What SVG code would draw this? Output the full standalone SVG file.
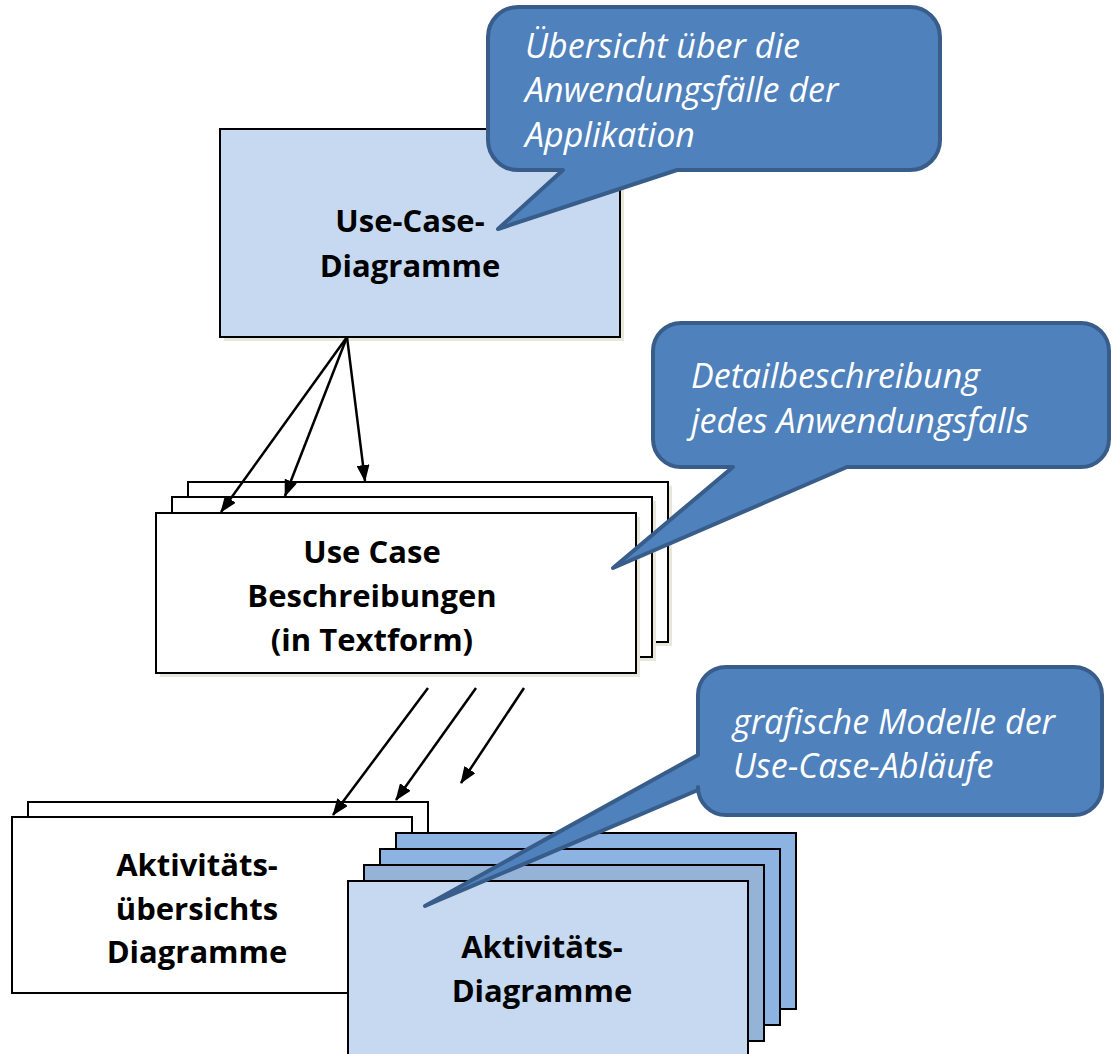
<svg xmlns="http://www.w3.org/2000/svg" width="1112" height="1054" viewBox="0 0 1112 1054">
  <defs>
    <marker id="arrow" viewBox="0 0 17 13" refX="16" refY="6.5" markerWidth="17" markerHeight="13" markerUnits="userSpaceOnUse" orient="auto">
      <path d="M0,0 L17,6.5 L0,13 Z" fill="#000"/>
    </marker>
    <style>
      .box { stroke: #000; stroke-width: 2; }
      .white { fill: #fff; }
      .light { fill: #c6d9f0; }
      .mid { fill: #95b3d7; }
      .dark { fill: #8db3e2; }
      .shadow { fill: #e9e6da; }
      .label { font-family: "Open Sans", "Liberation Sans", sans-serif; font-weight: bold; font-size: 31px; fill: #000; text-anchor: middle; }
      .callout { fill: #4f81bd; stroke: #385d8a; stroke-width: 4; stroke-linejoin: round; }
      .note { font-family: "Open Sans", "Liberation Sans", sans-serif; font-style: italic; font-size: 34px; fill: #fff; }
      .edge { stroke: #000; stroke-width: 2.5; fill: none; marker-end: url(#arrow); }
    </style>
  </defs>

  <!-- Use-Case diagram box -->
  <g id="use-case-diagramme">
    <rect class="shadow" x="224" y="133" width="400" height="208"/>
    <rect class="box light" x="220" y="129" width="400" height="208"/>
    <text class="label" x="410" y="232">Use-Case-</text>
    <text class="label" x="410" y="277">Diagramme</text>
  </g>

  <!-- Stack of use case descriptions -->
  <g id="use-case-beschreibungen">
    <rect class="shadow" x="192" y="486" width="480" height="160"/>
    <rect class="box white" x="188" y="482" width="480" height="160"/>
    <rect class="shadow" x="176" y="501" width="480" height="160"/>
    <rect class="box white" x="172" y="497" width="480" height="160"/>
    <rect class="shadow" x="160" y="517" width="480" height="160"/>
    <rect class="box white" x="156" y="513" width="480" height="160"/>
    <text class="label" x="372" y="563">Use Case</text>
    <text class="label" x="372" y="607">Beschreibungen</text>
    <text class="label" x="372" y="651">(in Textform)</text>
  </g>

  <!-- Activity overview diagrams -->
  <g id="aktivitaetsuebersichts-diagramme">
    <rect class="box white" x="28" y="802" width="400" height="176"/>
    <rect class="box white" x="12" y="817" width="400" height="176"/>
    <text class="label" x="197" y="876">Aktivitäts-</text>
    <text class="label" x="197" y="920">übersichts</text>
    <text class="label" x="197" y="963">Diagramme</text>
  </g>

  <!-- Activity diagrams -->
  <g id="aktivitaets-diagramme">
    <rect class="box dark" x="396" y="833" width="400" height="176"/>
    <rect class="box dark" x="380" y="849" width="400" height="176"/>
    <rect class="box mid" x="364" y="865" width="400" height="176"/>
    <rect class="box light" x="348" y="881" width="400" height="190"/>
    <text class="label" x="542" y="958">Aktivitäts-</text>
    <text class="label" x="542" y="1002">Diagramme</text>
  </g>

  <!-- Connectors -->
  <g id="connectors">
    <line class="edge" x1="347" y1="337" x2="221" y2="512"/>
    <line class="edge" x1="347" y1="337" x2="285" y2="496"/>
    <line class="edge" x1="347" y1="337" x2="365" y2="481"/>
    <line class="edge" x1="428" y1="688" x2="333" y2="815"/>
    <line class="edge" x1="476" y1="688" x2="396" y2="800"/>
    <line class="edge" x1="524" y1="688" x2="461" y2="783"/>
  </g>

  <!-- Callout: overview -->
  <g id="callout-uebersicht">
    <path class="callout" d="M518,7 H910 A30,30 0 0 1 940,37 V140 A30,30 0 0 1 910,170 H677 L498,229 L563,170 H518 A30,30 0 0 1 488,140 V37 A30,30 0 0 1 518,7 Z"/>
    <text class="note" x="525" y="58">Übersicht über die</text>
    <text class="note" x="525" y="102">Anwendungsfälle der</text>
    <text class="note" x="525" y="147">Applikation</text>
  </g>

  <!-- Callout: detail description -->
  <g id="callout-detail">
    <path class="callout" d="M681,323 H1081 A28,28 0 0 1 1109,351 V439 A28,28 0 0 1 1081,467 H847 L613,568 L733,467 H681 A28,28 0 0 1 653,439 V351 A28,28 0 0 1 681,323 Z"/>
    <text class="note" x="691" y="388">Detailbeschreibung</text>
    <text class="note" x="691" y="433">jedes Anwendungsfalls</text>
  </g>

  <!-- Callout: graphical models -->
  <g id="callout-grafisch">
    <path class="callout" d="M726,667 H1074 A28,28 0 0 1 1102,695 V787 A28,28 0 0 1 1074,815 H726 A28,28 0 0 1 698,787 V790 L425,906 L698,755 V695 A28,28 0 0 1 726,667 Z"/>
    <text class="note" x="733" y="734">grafische Modelle der</text>
    <text class="note" x="733" y="778">Use-Case-Abläufe</text>
  </g>
</svg>
